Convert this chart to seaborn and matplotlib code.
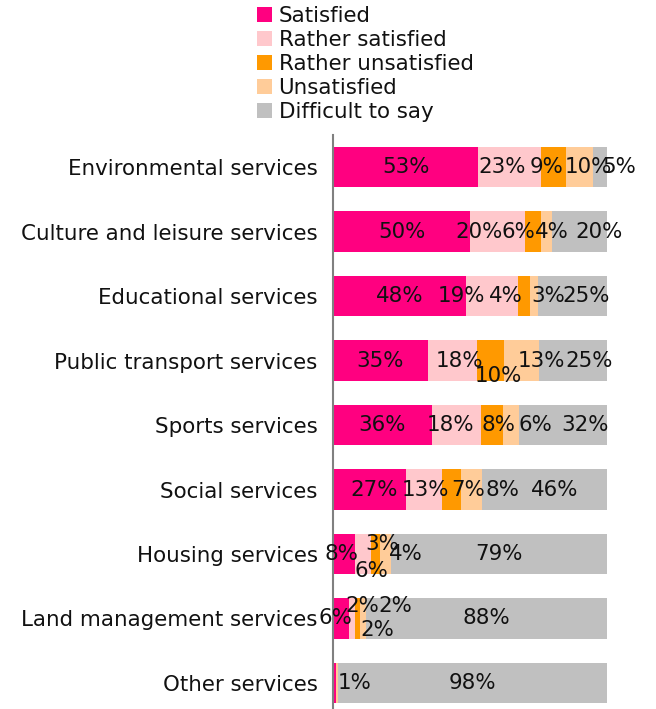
import matplotlib
matplotlib.use("Agg")
import matplotlib.pyplot as plt
from matplotlib.patches import Patch
import numpy as np
import pandas as pd
import seaborn as sns

# --- data -------------------------------------------------------------
services = [
    "Environmental services",
    "Culture and leisure services",
    "Educational services",
    "Public transport services",
    "Sports services",
    "Social services",
    "Housing services",
    "Land management services",
    "Other services",
]
series = ["Satisfied", "Rather satisfied", "Rather unsatisfied",
          "Unsatisfied", "Difficult to say"]

satisfied = [53, 50, 48, 35, 36, 27, 8, 6, 1]
rather_satisfied = [23, 20, 19, 18, 18, 13, 6, 2, 0]
rather_unsatisfied = [9, 6, 4, 10, 8, 7, 3, 2, 0]
unsatisfied = [10, 4, 3, 13, 6, 8, 4, 2, 1]
difficult = [5, 20, 25, 25, 32, 46, 79, 88, 98]

colors = ["#ff0080", "#ffc8cc", "#ff9900", "#ffcc99", "#c0c0c0"]

# --- label placement tweaks: (row, series) -> (dx in %, dy in px) ------
label_shift = {
    (0, 1): (-2.8, 0), (0, 2): (-2.7, 0), (0, 3): (3.0, 0), (0, 4): (7.0, 0),
    (1, 1): (-6.7, 0), (1, 2): (-5.5, 0), (1, 3): (2.0, 0), (1, 4): (7.0, 0),
    (2, 1): (-11.4, 0), (2, 2): (-6.5, 0), (2, 3): (5.2, 0), (2, 4): (5.0, 0),
    (3, 1): (2.6, 0), (3, 2): (2.8, 15), (3, 3): (7.1, 0), (3, 4): (5.8, 0),
    (4, 1): (-2.3, 0), (4, 2): (2.2, 0), (4, 3): (8.7, 0), (4, 4): (8.0, 0),
    (5, 0): (1.6, 0), (5, 1): (0.4, 0), (5, 2): (6.3, 0), (5, 3): (11.5, 0),
    (5, 4): (3.6, 0),
    (6, 0): (-0.8, 0), (6, 1): (2.9, 17), (6, 2): (2.3, -10), (6, 3): (7.7, 0),
    (7, 0): (-2.2, 0), (7, 1): (3.5, -13), (7, 2): (7.0, 12), (7, 3): (11.6, -13),
    (8, 0): (7.4, 0),
}
hidden_labels = {(8, 3)}

# --- build percent-stacked table --------------------------------------
values = np.array([satisfied, rather_satisfied, rather_unsatisfied,
                   unsatisfied, difficult], dtype=float).T
shares = values / values.sum(axis=1, keepdims=True) * 100
right_edges = np.cumsum(shares, axis=1)
left_edges = right_edges - shares

rows = []
for i, svc in enumerate(services):
    for j, s in enumerate(series):
        rows.append({"service": svc, "series": s, "right": right_edges[i, j]})
df = pd.DataFrame(rows)

# --- figure -----------------------------------------------------------
sns.set_theme(style="white")
plt.rcParams["font.family"] = ["DejaVu Sans"]
plt.rcParams["text.color"] = "black"
FS = 15.4

W, H = 656, 709
fig = plt.figure(figsize=(W / 100, H / 100), dpi=100)
ax = fig.add_axes([333 / W, -6.25 / H, 274 / W, 580.5 / H])

# draw from the outermost layer inwards so each stack segment shows
for j in reversed(range(len(series))):
    sub = df[df["series"] == series[j]]
    sns.barplot(data=sub, x="right", y="service", order=services,
                color=colors[j], saturation=1, width=0.63, errorbar=None,
                orient="h", ax=ax, linewidth=0)

ax.set_xlim(0, 100)
ax.set_ylim(len(services) - 0.5, -0.5)
ax.set_xlabel("")
ax.set_ylabel("")
ax.set_xticks([])
ax.tick_params(axis="y", length=0, pad=11, labelsize=FS, labelcolor="#111111")
for side in ["top", "right", "bottom"]:
    ax.spines[side].set_visible(False)
ax.spines["left"].set_color("#808080")
ax.spines["left"].set_linewidth(1.5)

# value labels
for i in range(len(services)):
    for j in range(len(series)):
        v = values[i, j]
        if v <= 0 or (i, j) in hidden_labels:
            continue
        dx, dy = label_shift.get((i, j), (0, 0))
        cx = (left_edges[i, j] + right_edges[i, j]) / 2 + dx
        ax.annotate(f"{int(v)}%", xy=(cx, i), xytext=(0, -dy * 0.72),
                    textcoords="offset points", ha="center", va="center",
                    fontsize=FS, color="#111111", annotation_clip=False)

handles = [Patch(facecolor=c, edgecolor="none") for c in colors]
leg = fig.legend(handles, series, loc="upper left",
                 bbox_to_anchor=(257 / W, 1 - 6 / H), frameon=False,
                 fontsize=FS, handlelength=0.68, handleheight=0.68,
                 handletextpad=0.33, labelspacing=0.19, borderpad=0,
                 borderaxespad=0)
for t in leg.get_texts():
    t.set_color("#111111")

fig.savefig("out.png", dpi=100)
